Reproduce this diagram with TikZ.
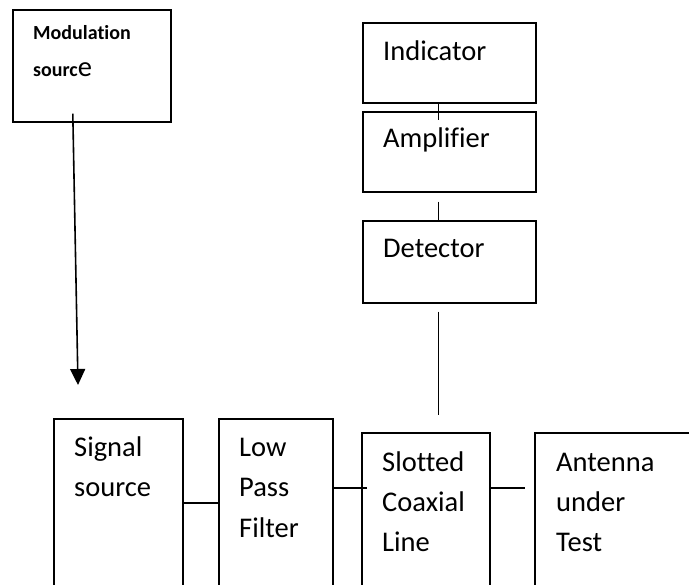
\documentclass[tikz,border=0pt]{standalone}
\usepackage{fontspec}
\setmainfont{Carlito}[Ligatures=NoCommon]
\usetikzlibrary{arrows.meta,calc}
\begin{document}
\begin{tikzpicture}[x=1pt,y=-1pt,
  blk/.style={draw,line width=1.6pt,anchor=north west,inner sep=0pt},
  txt/.style={anchor=base west,inner sep=0pt,align=left,font=\fontsize{28.5}{40.5}\selectfont},
  conn/.style={line width=1.2pt}]
\useasboundingbox (0,0) rectangle (689,585);
\clip (0,0) rectangle (689,585);
% boxes
\node[blk,minimum width=158pt,minimum height=112pt] (mod) at (12,9) {};
\node[blk,minimum width=173pt,minimum height=80pt] (ind) at (362,22) {};
\node[blk,minimum width=173pt,minimum height=80pt] (amp) at (362,111) {};
\node[blk,minimum width=173pt,minimum height=82pt] (det) at (362,220) {};
\node[blk,minimum width=129pt,minimum height=200pt] (sig) at (53,418) {};
\node[blk,minimum width=114pt,minimum height=200pt] (lpf) at (218,418) {};
\node[blk,minimum width=128pt,minimum height=200pt] (slot) at (361,432) {};
\node[blk,minimum width=180pt,minimum height=200pt] (ant) at (534,432) {};
% texts
\node[anchor=base west,inner sep=0pt,font=\fontsize{20}{24}\selectfont\bfseries] (tmod1) at (33,40) {Modulation};
\node[anchor=base west,inner sep=0pt] (tmod2) at (33,77) {{\fontsize{20}{24}\selectfont\bfseries sourc}{\fontsize{28.5}{34}\selectfont e}};
\node[txt] (tind) at (383,61) {Indicator};
\node[txt] (tamp) at (383,148) {Amplifier};
\node[txt] (tdet) at (383,258) {Detector};
\node[txt] (tsig) at (74,497) {Signal\\source};
\node[txt] (tlpf) at (239,537) {Low\\Pass\\Filter};
\node[txt] (tslot) at (382,552) {Slotted\\Coaxial\\Line};
\node[txt] (tant) at (556,552) {Antenna\\under\\Test};
% connectors
\coordinate (arrtip) at (78,385);
\draw[line width=1.6pt,-{Triangle[width=15pt,length=16pt]}] ([xshift=-19pt,yshift=9pt]mod.south) -- (arrtip);
\draw[conn] ([xshift=-10.5pt]ind.south) -- ([xshift=-10.5pt,yshift=-9pt]amp.north);
\draw[conn] ([xshift=-10.5pt,yshift=-9pt]amp.south) -- ([xshift=-10.5pt]det.north);
\draw[conn] ([xshift=-10.5pt,yshift=-8pt]det.south) -- ([xshift=13pt,yshift=17pt]slot.north);
\draw[conn] ([yshift=-85pt]sig.north east) -- ([yshift=-85pt]lpf.north west);
\draw[conn] ([yshift=-70pt]lpf.north east) -- ([xshift=6pt,yshift=-56pt]slot.north west);
\draw[conn] ([yshift=-56pt]slot.north east) -- ([xshift=-9pt,yshift=-56pt]ant.north west);
\end{tikzpicture}
\end{document}
